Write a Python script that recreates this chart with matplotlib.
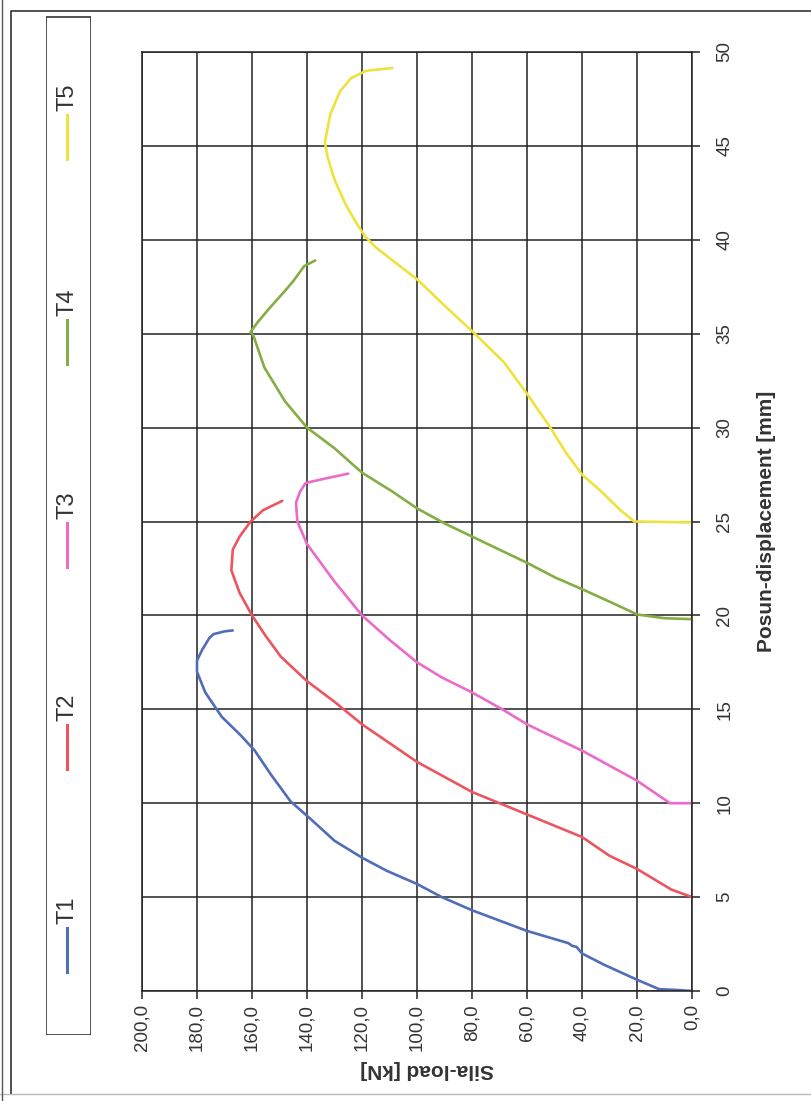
import matplotlib
matplotlib.use("Agg")
from matplotlib import pyplot as plt
from matplotlib.patches import Rectangle
from matplotlib.ticker import FuncFormatter

plt.rcParams['font.family'] = ['Liberation Sans', 'DejaVu Sans']

# series: displacement [mm] and load [kN]
disp_T1 = [0, 0.05, 0.1, 0.6, 1.4, 2.0, 2.35, 2.4, 2.55, 3.2, 4.3, 5.0, 5.7, 6.4, 7.1, 8.0, 9.2, 10.1,
           11.5, 12.8, 13.6, 14.6, 15.9, 17.0, 17.6, 18.2, 18.8, 19.0, 19.15, 19.2]
load_T1 = [0, 5, 12, 20, 32, 40, 42, 43.5, 45, 60, 80, 91, 100, 111, 120, 130, 139, 146,
           153, 159, 164, 171, 177, 180, 180, 178, 175.5, 174, 170, 167]

disp_T2 = [5.0, 5.4, 6.5, 7.2, 8.2, 8.8, 9.4, 10.0, 10.6, 11.4, 12.2, 13.2, 14.2, 15.4, 16.5, 17.8,
           18.9, 20.0, 21.2, 22.4, 23.5, 24.2, 25.0, 25.6, 26.1]
load_T2 = [0, 7.5, 20, 30, 40, 50, 60, 70, 80, 90, 100, 110, 120, 130, 140, 149.5,
           155, 160, 164.5, 167.5, 167, 164.5, 160.5, 156, 149]

disp_T3 = [10.0, 10.0, 10.5, 11.2, 12.0, 12.8, 13.5, 14.2, 15.0, 15.9, 16.7, 17.5, 18.7, 20.0, 21.8,
           23.8, 25.0, 26.0, 26.6, 27.05, 27.3, 27.55]
load_T3 = [0, 8, 13, 20, 30, 40, 50, 60, 69, 80, 91, 100, 110, 120, 130,
           140, 143.5, 144, 142.5, 140.5, 133, 125]

disp_T4 = [19.8, 19.85, 20.05, 20.6, 21.4, 22.0, 22.8, 23.5, 24.2, 24.9, 25.7, 26.6, 27.6, 28.9,
           30.0, 31.4, 33.2, 34.9, 35.1, 35.6, 36.3, 37.2, 37.8, 38.6, 38.9]
load_T4 = [0, 10, 20, 28, 40, 49.5, 60, 70, 80, 90, 100, 109, 120, 130,
           140, 148, 155.5, 159.5, 160.5, 158, 154, 148.5, 145, 141, 137]

disp_T5 = [24.95, 25.0, 25.6, 26.6, 27.5, 28.7, 30.0, 31.8, 33.5, 35.0, 36.5, 37.9, 38.8, 39.6,
           40.2, 41.0, 41.9, 43.2, 44.4, 45.2, 46.7, 47.9, 48.6, 49.0, 49.15]
load_T5 = [0, 21, 26, 33, 40, 46, 51.5, 60, 68.5, 79, 90, 100, 108, 115,
           119, 122.5, 126, 130, 132.5, 133.5, 131.5, 128, 124, 118.5, 109]

names = ["T1", "T2", "T3", "T4", "T5"]
colors = ["#4f6db8", "#ec5560", "#ec6ac8", "#84ae44", "#f0e23c"]
series = [(disp_T1, load_T1), (disp_T2, load_T2), (disp_T3, load_T3),
          (disp_T4, load_T4), (disp_T5, load_T5)]

W, H = 811, 1101
fig = plt.figure(figsize=(W / 100, H / 100), dpi=100)

def fx(px):
    return px / W

def fy(py):
    return 1 - py / H

# outer frame of the scanned chart
frame = fig.add_axes([0, 0, 1, 1], zorder=-5)
frame.set_xlim(0, W)
frame.set_ylim(H, 0)
frame.axis("off")
frame.plot([11, 11, W + 5], [1094, 11, 11], color="#333333", lw=1.2)
frame.plot([0, W], [1094, 1094], color="#bbbbbb", lw=1.0)
frame.plot([2, 2], [0, H], color="#555555", lw=1.0)

# the chart itself is turned 90 degrees: load runs horizontally, displacement vertically
ax = fig.add_axes([fx(142), fy(991), fx(692 - 142), (991 - 52) / H])
for (d, l), c in zip(series, colors):
    ax.plot(l, d, color=c, lw=1.9, solid_capstyle="round")

ax.set_xlim(200, 0)
ax.set_ylim(0, 50)
ax.set_xticks(range(0, 201, 20))
ax.set_yticks(range(0, 51, 5))
ax.xaxis.set_major_formatter(FuncFormatter(lambda v, p: ("%.1f" % v).replace(".", ",")))
ax.grid(True, color="#222222", lw=1.1)
for s in ax.spines.values():
    s.set_color("#222222")
    s.set_linewidth(1.1)

ax.yaxis.tick_right()
ax.tick_params(axis="x", direction="out", length=5.5, width=1.1, pad=4,
               labelsize=13.5, labelrotation=90, colors="#222222", labelcolor="#333333")
ax.tick_params(axis="y", direction="out", length=5.5, width=1.1, pad=12,
               labelsize=13.5, labelrotation=90, colors="#222222", labelcolor="#333333")
for lab in ax.get_yticklabels():
    lab.set_verticalalignment("center")

ax.yaxis.set_label_position("right")
ax.set_ylabel("Posun-displacement [mm]", fontsize=15, fontweight="bold", rotation=90,
              va="center", ha="center", color="#333333")
ax.yaxis.set_label_coords((767 - 142) / 550, 0.5)
ax.set_xlabel("Sila-load [kN]", fontsize=15, fontweight="bold", rotation=180,
              va="center", ha="center", color="#333333")
ax.xaxis.set_label_coords((427 - 142) / 550, -(1070 - 991) / 939)

# legend, drawn by hand because it stands on its side
lax = fig.add_axes([fx(46), fy(1035), fx(91 - 46), (1035 - 16) / H])
lax.set_xlim(46, 91)
lax.set_ylim(1035, 16)
lax.axis("off")
lax.add_patch(Rectangle((46.5, 16.5), 44, 1018, fill=False, ec="#333333", lw=1.2))
line_tops = [928, 725, 523, 320, 115]
for name, c, top in zip(names, colors, line_tops):
    lax.plot([67, 67], [top, top + 44], color=c, lw=2.2)
    lax.text(67, top - 18, name, rotation=90, ha="center", va="center",
             fontsize=17, color="#333333")

fig.savefig("out.png", dpi=100)
